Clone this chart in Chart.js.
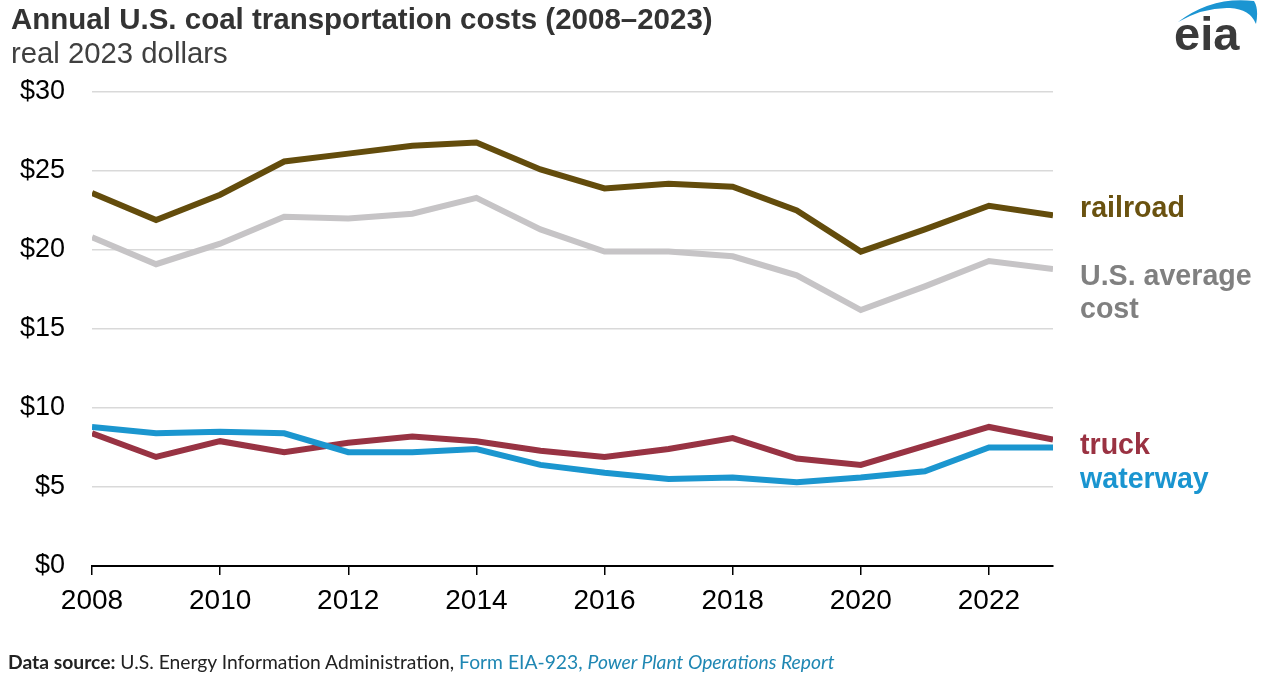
<!DOCTYPE html>
<html>
<head>
<meta charset="utf-8">
<script src="https://cdn.jsdelivr.net/npm/chart.js@4.4.1/dist/chart.umd.min.js"></script>
<style>
  html, body { margin: 0; padding: 0; background: #fff; }
  #wrap { position: relative; width: 1280px; height: 676px; overflow: hidden; font-family: "Liberation Sans", Arial, sans-serif; }
  #chartBox { position: absolute; left: 0; top: 0; width: 1280px; height: 676px; }
  .t { position: absolute; white-space: nowrap; }
  #title { left: 11px; top: 2px; font-size: 29.5px; font-weight: bold; color: #333333; }
  #subtitle { left: 11px; top: 36px; font-size: 29.3px; color: #404040; }
  .lbl { position: absolute; left: 1080px; font-size: 28.6px; font-weight: bold; line-height: 33px; white-space: nowrap; }
  #footer { left: 8px; top: 650px; font-family: Lato, "Open Sans", sans-serif; font-size: 19.3px; color: #222; }
  #footer .blue { color: #1f87b3; }
  #logo { position: absolute; left: 1168px; top: 0px; }
</style>
</head>
<body>
<div id="wrap">
  <div id="chartBox"><canvas id="c" width="1280" height="676"></canvas></div>
  <div class="t" id="title">Annual U.S. coal transportation costs (2008–2023)</div>
  <div class="t" id="subtitle">real 2023 dollars</div>
  <div class="lbl" id="l-rail" style="top:191px;color:#6a5210;">railroad</div>
  <div class="lbl" id="l-avg" style="top:259px;color:#808080;">U.S. average<br>cost</div>
  <div class="lbl" id="l-truck" style="top:428px;color:#9a3242;">truck</div>
  <div class="lbl" id="l-water" style="top:462px;color:#1a95d0;">waterway</div>
  <div class="t" id="footer"><b>Data source:</b> U.S. Energy Information Administration, <span class="blue">Form EIA-923, <i>Power Plant Operations Report</i></span></div>
  <svg id="logo" width="100" height="56" viewBox="0 0 100 56">
    <path d="M10 22 Q44 -4 86 1 Q91 9 88 24 Q82 9 62 8 Q36 7 10 22 Z" fill="#1b95d2"/>
    <text x="6" y="50" font-family="Liberation Sans, Arial, sans-serif" font-weight="bold" font-size="47" fill="#3a3a3a">eia</text>
  </svg>
</div>
<script>
const years = [2008,2009,2010,2011,2012,2013,2014,2015,2016,2017,2018,2019,2020,2021,2022,2023];
const railroad = [23.6,21.9,23.5,25.6,26.1,26.6,26.8,25.1,23.9,24.2,24.0,22.5,19.9,21.3,22.8,22.2];
const usAverage = [20.8,19.1,20.4,22.1,22.0,22.3,23.3,21.3,19.9,19.9,19.6,18.4,16.2,17.7,19.3,18.8];
const truck = [8.4,6.9,7.9,7.2,7.8,8.2,7.9,7.3,6.9,7.4,8.1,6.8,6.4,7.6,8.8,8.0];
const waterway = [8.8,8.4,8.5,8.4,7.2,7.2,7.4,6.4,5.9,5.5,5.6,5.3,5.6,6.0,7.5,7.5];
const yTicks = [0,5,10,15,20,25,30];

function pts(arr){ return years.map((y,i)=>({x:y, y:arr[i]})); }
function ds(label, arr, color){
  return { label, data: pts(arr), borderColor: color, backgroundColor: color, borderWidth: 6,
           pointRadius: 0, tension: 0, borderJoinStyle: 'miter', borderCapStyle: 'butt' };
}

new Chart(document.getElementById('c'), {
  type: 'line',
  data: { datasets: [
    ds('U.S. average cost', usAverage, '#c6c4c6'),
    ds('railroad', railroad, '#634c0c'),
    ds('waterway', waterway, '#1b96cf'),
    ds('truck', truck, '#983343')
  ]},
  options: {
    responsive: false, animation: false,
    layout: { padding: { left: 0, right: 227, top: 92, bottom: 50 } },
    plugins: { legend: { display: false }, tooltip: { enabled: false } },
    scales: {
      x: {
        type: 'linear', min: 2008, max: 2023,
        border: { display: true, color: '#000', width: 2 },
        grid: { display: true, drawOnChartArea: false, drawTicks: true, tickLength: 9, color: '#000', lineWidth: 1.5 },
        ticks: { stepSize: 2, includeBounds: false, padding: 9, color: '#000',
                 font: { family: 'Liberation Sans', size: 28 },
                 callback: v => String(v), maxRotation: 0 },
        afterFit: s => { s.height = 60; }
      },
      y: {
        min: 0, max: 30,
        border: { display: false },
        grid: { color: '#d9d9d9', lineWidth: 1.5, drawTicks: false },
        afterBuildTicks: s => { s.ticks = yTicks.map(v => ({ value: v })); },
        ticks: { padding: 27, color: '#000', font: { family: 'Liberation Sans', size: 27 },
                 callback: v => '$' + v },
        afterFit: s => { s.width = 92; }
      }
    }
  }
});
</script>
</body>
</html>
